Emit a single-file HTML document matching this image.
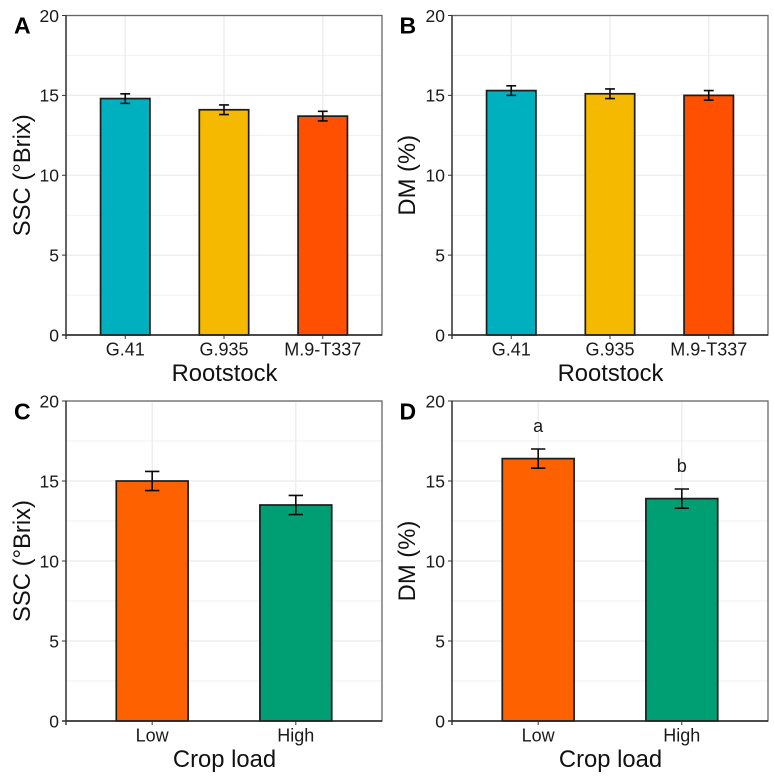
<!DOCTYPE html>
<html lang="en">
<head>
<meta charset="utf-8">
<title>SSC and DM by rootstock and crop load</title>
<style>
html,body{margin:0;padding:0;background:#fff;}
body{width:774px;height:777px;overflow:hidden;}
svg{display:block;font-family:"Liberation Sans",sans-serif;}
</style>
</head>
<body>
<svg id="figure" width="774" height="777" viewBox="0 0 774 777" xmlns="http://www.w3.org/2000/svg"></svg>
<script>
const rootstockCategories = ['G.41', 'G.935', 'M.9-T337'];
const cropLoadCategories = ['Low', 'High'];
const sscRootstockValues = [14.8, 14.1, 13.7];
const sscRootstockErrors = [0.3, 0.3, 0.3];
const dmRootstockValues = [15.3, 15.1, 15.0];
const dmRootstockErrors = [0.3, 0.3, 0.3];
const sscCropLoadValues = [15.0, 13.5];
const sscCropLoadErrors = [0.6, 0.6];
const dmCropLoadValues = [16.4, 13.9];
const dmCropLoadErrors = [0.6, 0.6];
const dmCropLoadLetters = ['a', 'b'];
const yTickLabels = [0, 5, 10, 15, 20];
const yMinorTicks = [2.5, 7.5, 12.5, 17.5];
const rootstockColors = ['#00B0BE', '#F5BA00', '#FF4F00'];
const cropLoadColors = ['#FD6100', '#009E73'];

const NS = 'http://www.w3.org/2000/svg';
const svg = document.getElementById('figure');

function make(parent, tag, attrs, text) {
  const el = document.createElementNS(NS, tag);
  for (const k in attrs) el.setAttribute(k, attrs[k]);
  if (text !== undefined) el.textContent = text;
  parent.appendChild(el);
  return el;
}

function drawPanel(cfg) {
  const g = make(svg, 'g', {});
  
  

  const n = cfg.categories.length;
  const xScale = i => cfg.left + (i + 0.6) * (cfg.right - cfg.left) / (n + 0.2);
  const bandUnit = (cfg.right - cfg.left) / (n + 0.2);
  const yScale = v => cfg.bottom - v * (cfg.bottom - cfg.top) / 20;

  yMinorTicks.forEach(v => {
    const l = make(g, 'line', {x1: cfg.left, x2: cfg.right, y1: yScale(v), y2: yScale(v), stroke: '#f1f1f1', 'stroke-width': 1});
    
    
  });
  yTickLabels.forEach(v => {
    const l = make(g, 'line', {x1: cfg.left, x2: cfg.right, y1: yScale(v), y2: yScale(v), stroke: '#ebebeb', 'stroke-width': 1.3});
    
    
  });
  cfg.categories.forEach((c, i) => {
    const l = make(g, 'line', {x1: xScale(i), x2: xScale(i), y1: cfg.top, y2: cfg.bottom, stroke: '#ebebeb', 'stroke-width': 1.3});
    
    
  });

  const barW = bandUnit * 0.5;
  cfg.categories.forEach((c, i) => {
    const bar = make(g, 'rect', {
      x: xScale(i) - barW / 2, y: yScale(cfg.values[i]), width: barW,
      height: cfg.bottom - yScale(cfg.values[i]),
      fill: cfg.colors[i], stroke: '#1c1c1c', 'stroke-width': 1.7
    });
    
    
  });

  const capHalf = bandUnit * 0.05;
  cfg.categories.forEach((c, i) => {
    const hi = yScale(cfg.values[i] + cfg.errors[i]);
    const lo = yScale(cfg.values[i] - cfg.errors[i]);
    const x = xScale(i);
    const err = make(g, 'path', {
      d: 'M' + (x - capHalf) + ' ' + hi + 'H' + (x + capHalf) +
         'M' + x + ' ' + hi + 'V' + lo +
         'M' + (x - capHalf) + ' ' + lo + 'H' + (x + capHalf),
      fill: 'none', stroke: '#0a0a0a', 'stroke-width': 1.6
    });
    
    
  });

  if (cfg.letters) {
    cfg.letters.forEach((t, i) => {
      const lab = make(g, 'text', {
        x: xScale(i), y: yScale(cfg.values[i] + cfg.errors[i]) - 17,
        'text-anchor': 'middle', 'font-size': 18, fill: '#1a1a1a'
      }, t);
      
      
    });
  }

  const border = make(g, 'rect', {x: cfg.left, y: cfg.top, width: cfg.right - cfg.left, height: cfg.bottom - cfg.top, fill: 'none', stroke: '#666', 'stroke-width': 1.3});
  
  

  const xAxis = make(g, 'line', {x1: cfg.left - 4, x2: cfg.right, y1: cfg.bottom, y2: cfg.bottom, stroke: '#222', 'stroke-width': 1.6});
  
  
  const yAxis = make(g, 'line', {x1: cfg.left, x2: cfg.left, y1: cfg.top, y2: cfg.bottom + 4, stroke: '#333', 'stroke-width': 1.4});
  
  

  yTickLabels.forEach(v => {
    const t = make(g, 'line', {x1: cfg.left - 4, x2: cfg.left, y1: yScale(v), y2: yScale(v), stroke: '#333', 'stroke-width': 1});
    
    
    const lab = make(g, 'text', {x: cfg.left - 7, y: yScale(v) + 6.3, 'text-anchor': 'end', 'font-size': 17.5, fill: '#1a1a1a'}, v);
    
    
  });
  cfg.categories.forEach((c, i) => {
    const t = make(g, 'line', {x1: xScale(i), x2: xScale(i), y1: cfg.bottom, y2: cfg.bottom + 4, stroke: '#333', 'stroke-width': 1});
    
    
    const lab = make(g, 'text', {x: xScale(i), y: cfg.bottom + 20.5, 'text-anchor': 'middle', 'font-size': 18, fill: '#1a1a1a'}, c);
    
    
  });

  const xTitle = make(g, 'text', {x: (cfg.left + cfg.right) / 2 + 0.5, y: cfg.bottom + 46, 'text-anchor': 'middle', 'font-size': 23.8, fill: '#111'}, cfg.xTitle);
  
  

  const yMid = (cfg.top + cfg.bottom) / 2;
  const yTitle = make(g, 'text', {
    x: cfg.yTitleX, y: yMid,
    transform: 'rotate(-90 ' + cfg.yTitleX + ' ' + yMid + ')',
    'text-anchor': 'middle', 'font-size': 23.8, fill: '#111'
  }, cfg.yTitle);
  
  

  const tag = make(g, 'text', {x: cfg.letterX, y: cfg.letterY, 'font-size': 23, 'font-weight': 'bold', fill: '#000'}, cfg.letter);
  
  
}

drawPanel({letter: 'A', letterX: 14, letterY: 33.5, left: 66, right: 382, top: 15.5, bottom: 335, yTitleX: 30,
  categories: rootstockCategories, values: sscRootstockValues, errors: sscRootstockErrors, colors: rootstockColors,
  xTitle: 'Rootstock', yTitle: 'SSC (°Brix)'});
drawPanel({letter: 'B', letterX: 399.5, letterY: 33.5, left: 452, right: 768, top: 15.5, bottom: 335, yTitleX: 415,
  categories: rootstockCategories, values: dmRootstockValues, errors: dmRootstockErrors, colors: rootstockColors,
  xTitle: 'Rootstock', yTitle: 'DM (%)'});
drawPanel({letter: 'C', letterX: 14, letterY: 419.5, left: 66, right: 382, top: 401, bottom: 721, yTitleX: 30,
  categories: cropLoadCategories, values: sscCropLoadValues, errors: sscCropLoadErrors, colors: cropLoadColors,
  xTitle: 'Crop load', yTitle: 'SSC (°Brix)'});
drawPanel({letter: 'D', letterX: 399.5, letterY: 419.5, left: 452, right: 768, top: 401, bottom: 721, yTitleX: 415,
  categories: cropLoadCategories, values: dmCropLoadValues, errors: dmCropLoadErrors, colors: cropLoadColors,
  letters: dmCropLoadLetters, xTitle: 'Crop load', yTitle: 'DM (%)'});
</script>
</body>
</html>
